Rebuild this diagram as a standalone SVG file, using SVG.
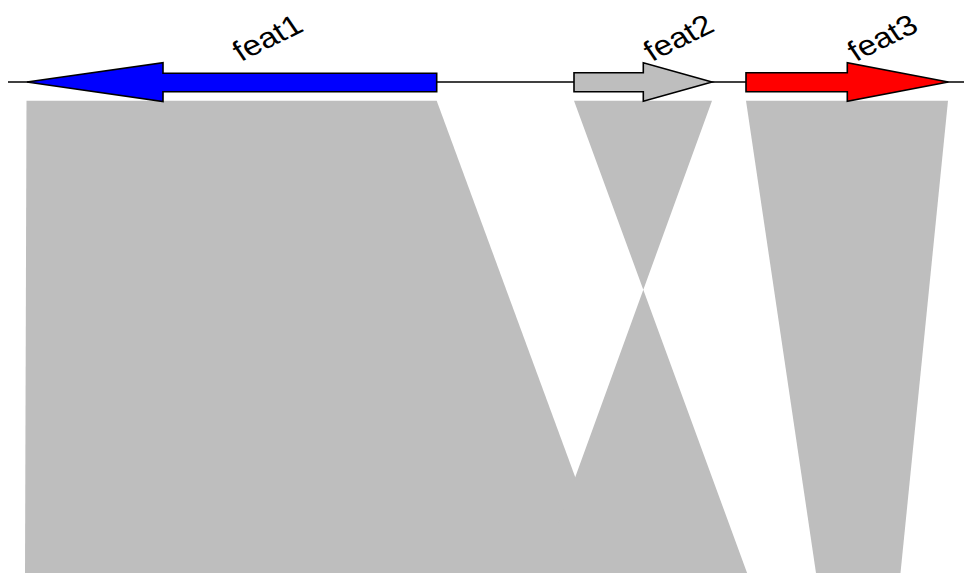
<svg xmlns="http://www.w3.org/2000/svg" width="964" height="573" viewBox="0 0 964 573">
<style>
.link{fill:#BEBEBE;stroke:none}
.gene{stroke:#000;stroke-width:1.6;stroke-linejoin:miter}
.lbl{font-family:"Liberation Sans",Arial,sans-serif;font-size:28.5px;fill:#000}
.bb{stroke:#000;stroke-width:1.4;fill:none}
</style>
<g id="links">
<polygon class="link" points="26.5,100.7 436.7,100.7 610.5,573 25,573"/>
<polygon class="link" points="574,100.7 712,100.7 540.4,573 747.1,573"/>
<polygon class="link" points="746,100.7 948,100.7 900.5,573 816,573"/>
</g>
<g id="backbone">
<line class="bb" x1="8" y1="82" x2="964" y2="82"/>
</g>
<g id="feat1">
<polygon class="gene" fill="#0000FF" points="27,82 163,62.7 163,73.3 436.7,73.3 436.7,91.7 163,91.7 163,101.5"/>
<text class="lbl" transform="translate(241,62) scale(1.17,1) rotate(-30)">feat1</text>
</g>
<g id="feat2">
<polygon class="gene" fill="#BEBEBE" points="712,82 643.3,62.7 643.3,72.8 574,72.8 574,91.7 643.3,91.7 643.3,101.2"/>
<text class="lbl" transform="translate(652,62) scale(1.17,1) rotate(-30)">feat2</text>
</g>
<g id="feat3">
<polygon class="gene" fill="#FF0000" points="948.3,82 847.3,62.7 847.3,72.8 746,72.8 746,91.7 847.3,91.7 847.3,101.2"/>
<text class="lbl" transform="translate(856,62) scale(1.17,1) rotate(-30)">feat3</text>
</g>
</svg>
